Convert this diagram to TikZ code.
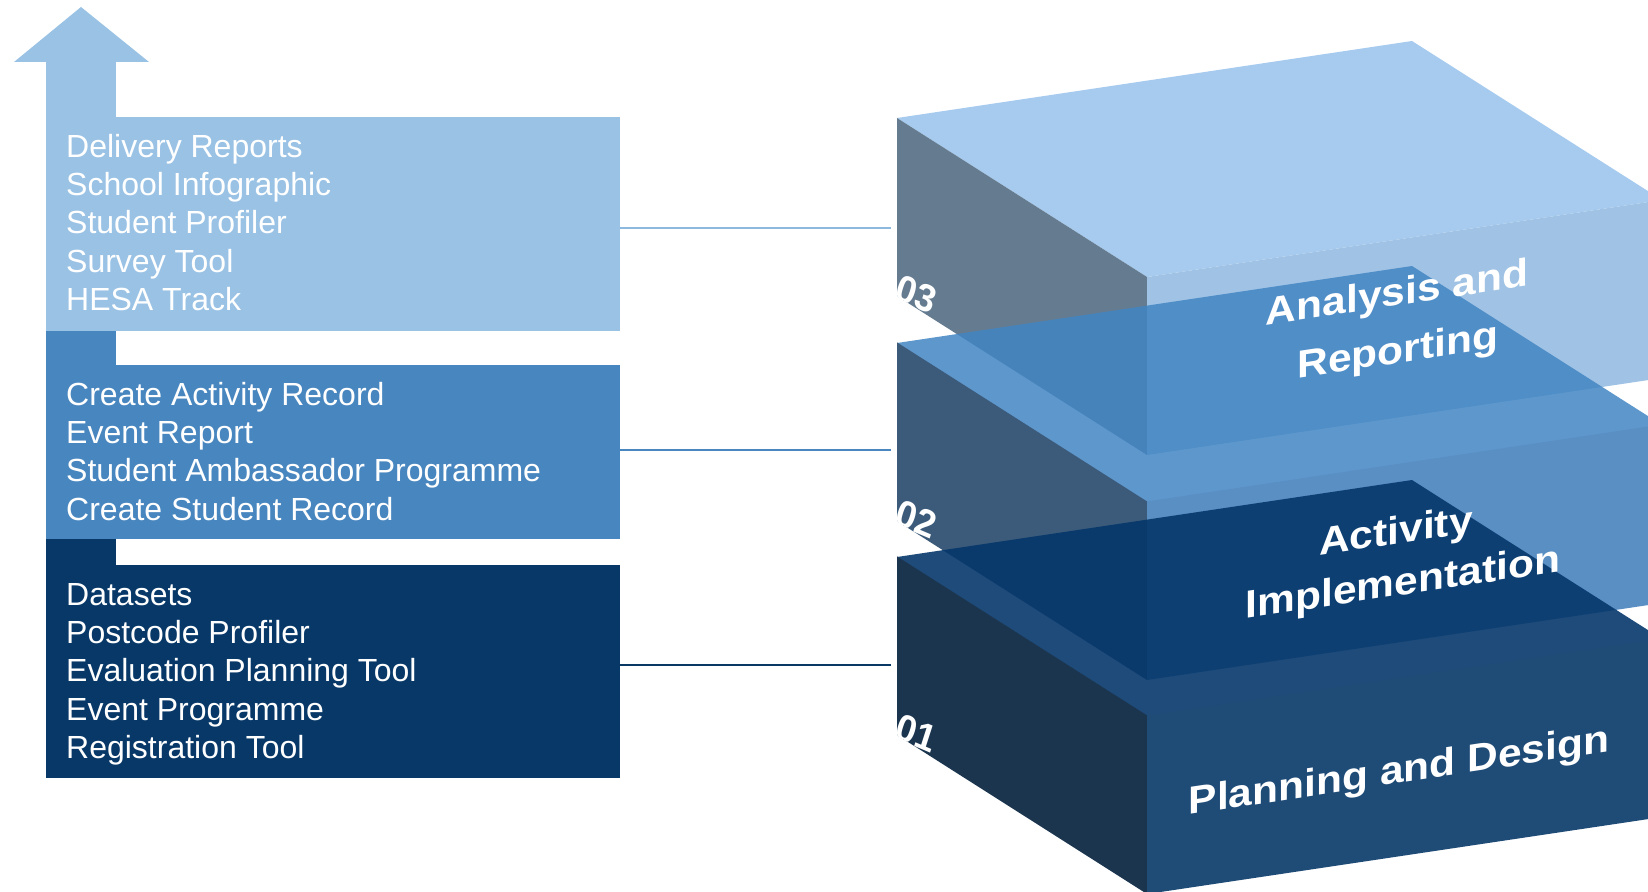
\documentclass[tikz,border=0pt]{standalone}
\usepackage{fontspec}
\setmainfont{Liberation Sans}
\usetikzlibrary{calc}
\definecolor{boxA}{HTML}{99C2E5}
\definecolor{boxB}{HTML}{4886BF}
\definecolor{boxC}{HTML}{073868}
\definecolor{lineA}{HTML}{8DB8E0}
\definecolor{lineB}{HTML}{4A86BF}
\definecolor{lineC}{HTML}{0A3865}
\definecolor{topT}{HTML}{A6CBEE}
\definecolor{topL}{HTML}{657B8F}
\definecolor{topF}{HTML}{A0C3E5}
\definecolor{midT}{HTML}{4285C3}
\definecolor{midL}{HTML}{3C5B7A}
\definecolor{midF}{HTML}{5A8FC3}
\definecolor{botT}{HTML}{05376B}
\definecolor{botL}{HTML}{1B354F}
\definecolor{botF}{HTML}{1F4B77}
\begin{document}
\begin{tikzpicture}[x=1pt,y=-1pt,
  panel/.style={anchor=north west, inner sep=0pt, minimum width=574pt, draw=none},
  listtext/.style={anchor=base west, inner sep=0pt, text=white, font=\fontsize{32}{38.4}\selectfont},
  connector/.style={line width=1.3pt},
  facetext/.style={text=white, inner sep=0pt, anchor=base, font=\fontsize{39}{46}\selectfont\bfseries, cm={1.09,0.164,0,1,(0,0)}},
  numtext/.style={text=white, inner sep=0pt, anchor=base west, font=\fontsize{36}{38}\selectfont\bfseries, cm={0.95,-0.4,0.32,1,(0,0)}}]
\useasboundingbox (0,0) rectangle (1648,891);
\clip (0,0) rectangle (1648,891);

% ---------- left: arrow and panels ----------
\fill[boxA] (14,62) -- (81,7) -- (149,62) -- cycle;
\fill[boxA] (46,61) rectangle (115.5,118);
\fill[boxB] (46,330) rectangle (115.5,366);
\fill[boxC] (46,538) rectangle (115.5,566);

\node[panel, fill=boxA, minimum height=214pt] (p3) at (46,117) {};
\node[panel, fill=boxB, minimum height=174pt] (p2) at (46,365) {};
\node[panel, fill=boxC, minimum height=213pt] (p1) at (46,565) {};

\node[listtext] (t3) at (66,157) {\begin{tabular}[t]{@{}l@{}}Delivery Reports\\ School Infographic\\ Student Profiler\\ Survey Tool\\ HESA Track\end{tabular}};
\node[listtext] (t2) at (66,405) {\begin{tabular}[t]{@{}l@{}}Create Activity Record\\ Event Report\\ Student Ambassador Programme\\ Create Student Record\end{tabular}};
\node[listtext] (t1) at (66,605) {\begin{tabular}[t]{@{}l@{}}Datasets\\ Postcode Profiler\\ Evaluation Planning Tool\\ Event Programme\\ Registration Tool\end{tabular}};

\coordinate (c3) at (891,228);
\coordinate (c2) at (891,450);
\coordinate (c1) at (891,665);
\draw[connector, lineA] (c3 -| p3.east) -- (c3);
\draw[connector, lineB] (c2 -| p2.east) -- (c2);
\draw[connector, lineC] (c1 -| p1.east) -- (c1);

% ---------- right: stacked blocks ----------
\coordinate (L3) at (897,118);
\coordinate (L2) at (897,343);
\coordinate (L1) at (897,557);

% top block (03)
\fill[topT] (L3) -- ++(250,159) -- ++(515,-77) -- ++(-250,-159) -- cycle;
\fill[topL] (L3) -- ++(250,159) -- ++(0,178) -- ++(-250,-159) -- cycle;
\fill[topF] (L3) ++(250,159) -- ++(515,-77) -- ++(0,178) -- ++(-515,77) -- cycle;
\begin{scope}
  \clip (L3) -- ++(250,159) -- ++(0,178) -- ++(-250,-159) -- cycle;
  \node[numtext] (n3) at (893,298) {03};
\end{scope}

% middle block (02)
\fill[midT, fill opacity=0.85] (L2) -- ++(250,159) -- ++(515,-77) -- ++(-250,-159) -- cycle;
\fill[midL] (L2) ++(0,-0.6) -- ++(250,159) -- ++(0,178.6) -- ++(-250,-159) -- cycle;
\fill[midF] (L2) ++(250,158.4) -- ++(515,-77) -- ++(0,178.6) -- ++(-515,77) -- cycle;
\begin{scope}
  \clip (L2) -- ++(250,159) -- ++(0,178) -- ++(-250,-159) -- cycle;
  \node[numtext] (n2) at (893,523) {02};
\end{scope}

% bottom block (01)
\fill[botT, fill opacity=0.9] (L1) -- ++(250,159) -- ++(515,-77) -- ++(-250,-159) -- cycle;
\fill[botL] (L1) ++(0,-0.6) -- ++(250,159) -- ++(0,178.6) -- ++(-250,-159) -- cycle;
\fill[botF] (L1) ++(250,158.4) -- ++(515,-77) -- ++(0,178.6) -- ++(-515,77) -- cycle;
\begin{scope}
  \clip (L1) -- ++(250,159) -- ++(0,178) -- ++(-250,-159) -- cycle;
  \node[numtext] (n1) at (893,737) {01};
\end{scope}

% block titles
\node[facetext] (a1) at (1397,305.5) {Analysis and};
\node[facetext] (a2) at (1398,363) {Reporting};
\node[facetext] (b1) at (1396,544) {Activity};
\node[facetext] (b2) at (1403,595) {Implementation};
\node[facetext] (d1) at (1399,783) {Planning and Design};
\end{tikzpicture}
\end{document}
